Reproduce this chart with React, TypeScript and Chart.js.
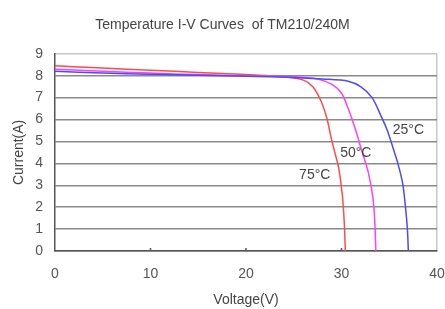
import React, { useEffect, useRef } from "react";
import { Chart, registerables } from "chart.js";

Chart.register(...registerables);

const TITLE = "Temperature I-V Curves  of TM210/240M";
const X_TITLE = "Voltage(V)";
const Y_TITLE = "Current(A)";

const SERIES_NAMES = ["25°C", "50°C", "75°C"];
const SERIES_COLORS = ["#4a4aff", "#ff40ff", "#ff4a4a"];

const V25 = [0, 5, 10, 15, 20, 25, 28, 30.7, 32.0, 33.2, 34.1, 34.8, 35.4, 35.9, 36.4, 36.7, 36.9, 37.0];
const I25 = [8.2, 8.12, 8.07, 8.02, 7.98, 7.92, 7.85, 7.75, 7.5, 7.0, 6.2, 5.5, 4.7, 4.0, 3.1, 2.0, 1.0, 0];

const V50 = [0, 5, 10, 15, 20, 25, 27.5, 29, 30, 30.7, 31.5, 32.1, 32.8, 33.3, 33.5, 33.6];
const I50 = [8.3, 8.2, 8.12, 8.05, 8.0, 7.95, 7.85, 7.6, 7.2, 6.5, 5.5, 4.6, 3.6, 2.4, 1.2, 0];

const V75 = [0, 5, 10, 15, 20, 24, 26, 27, 27.9, 28.5, 28.9, 29.3, 29.7, 30.1, 30.3, 30.4];
const I75 = [8.45, 8.35, 8.25, 8.15, 8.05, 7.95, 7.8, 7.5, 6.8, 6.0, 5.2, 4.5, 3.8, 2.5, 1.2, 0];

// label anchor points (voltage, current) for each curve label
const LABEL_V = [37.0, 31.5, 27.2];
const LABEL_I = [5.5, 4.45, 3.45];

const X_TICKS = [0, 10, 20, 30, 40];
const Y_TICKS = [0, 1, 2, 3, 4, 5, 6, 7, 8, 9];

const FONT = "'Liberation Sans', Arial, sans-serif";

const toPoints = (xs: number[], ys: number[]) => xs.map((x, i) => ({ x, y: ys[i] }));

export default function App() {
  const ref = useRef<HTMLCanvasElement | null>(null);

  useEffect(() => {
    if (!ref.current) return;
    const seriesX = [V25, V50, V75];
    const seriesY = [I25, I50, I75];

    const extras = {
      id: "extras",
      afterDatasetsDraw(chart: any) {
        const ctx = chart.ctx;
        const xs = chart.scales.x;
        const ys = chart.scales.y;
        ctx.save();
        ctx.strokeStyle = "#555";
        ctx.lineWidth = 1.5;
        X_TICKS.slice(1, -1).forEach((v) => {
          const px = xs.getPixelForValue(v);
          ctx.beginPath();
          ctx.moveTo(px, ys.bottom);
          ctx.lineTo(px, ys.bottom - 3);
          ctx.stroke();
        });
        ctx.fillStyle = "#444";
        ctx.font = `14px ${FONT}`;
        ctx.textAlign = "center";
        ctx.textBaseline = "middle";
        SERIES_NAMES.forEach((n, i) => {
          ctx.fillText(n, xs.getPixelForValue(LABEL_V[i]), ys.getPixelForValue(LABEL_I[i]));
        });
        ctx.restore();
      },
    };

    const chart = new Chart(ref.current, {
      type: "scatter",
      data: {
        datasets: SERIES_NAMES.map((name, i) => ({
          label: name,
          data: toPoints(seriesX[i], seriesY[i]),
          showLine: true,
          borderColor: SERIES_COLORS[i],
          borderWidth: 1.5,
          pointRadius: 0,
          tension: 0.3,
          fill: false,
        })),
      },
      options: {
        animation: false,
        responsive: false,
        layout: { padding: { top: 0, right: 0, left: 0, bottom: 0 } },
        plugins: {
          legend: { display: false },
          tooltip: { enabled: false },
          title: {
            display: true,
            text: TITLE,
            color: "#444",
            font: { family: FONT, size: 14, weight: "normal" },
            padding: { top: 17, bottom: 20 },
          },
        },
        scales: {
          x: {
            type: "linear",
            min: 0,
            max: 40,
            afterBuildTicks: (s: any) => {
              s.ticks = X_TICKS.map((v) => ({ value: v }));
            },
            afterFit: (s: any) => {
              s.height = 58;
              s.paddingRight = 8;
              s.paddingLeft = 0;
            },
            ticks: {
              color: "#555",
              font: { family: FONT, size: 14 },
              padding: 15,
              maxRotation: 0,
            },
            grid: {
              drawTicks: false,
              lineWidth: 1.5,
              color: (c: any) => (c.tick && c.tick.value === 40 ? "#c8c8c8" : "rgba(0,0,0,0)"),
            },
            border: { display: true, color: "#555", width: 1.5 },
            title: {
              display: true,
              text: X_TITLE,
              color: "#444",
              font: { family: FONT, size: 14 },
              padding: { top: 2, bottom: 0 },
            },
          },
          y: {
            type: "linear",
            min: 0,
            max: 9,
            afterBuildTicks: (s: any) => {
              s.ticks = Y_TICKS.map((v) => ({ value: v }));
            },
            afterFit: (s: any) => {
              s.width = 55;
            },
            ticks: {
              color: "#555",
              font: { family: FONT, size: 14 },
              padding: 12,
            },
            grid: {
              drawTicks: false,
              lineWidth: 1.5,
              color: (c: any) => (c.tick && c.tick.value === 9 ? "#c8c8c8" : "#8a8a8a"),
            },
            border: { display: true, color: "#555", width: 1.5 },
            title: {
              display: true,
              text: Y_TITLE,
              color: "#444",
              font: { family: FONT, size: 14 },
              padding: { top: 11, bottom: 0 },
            },
          },
        },
      },
      plugins: [extras],
    });
    return () => chart.destroy();
  }, []);

  return (
    <div style={{ position: "fixed", left: 0, top: 0, width: 445, height: 309, background: "#fff" }}>
      <canvas ref={ref} width={445} height={309} />
    </div>
  );
}
